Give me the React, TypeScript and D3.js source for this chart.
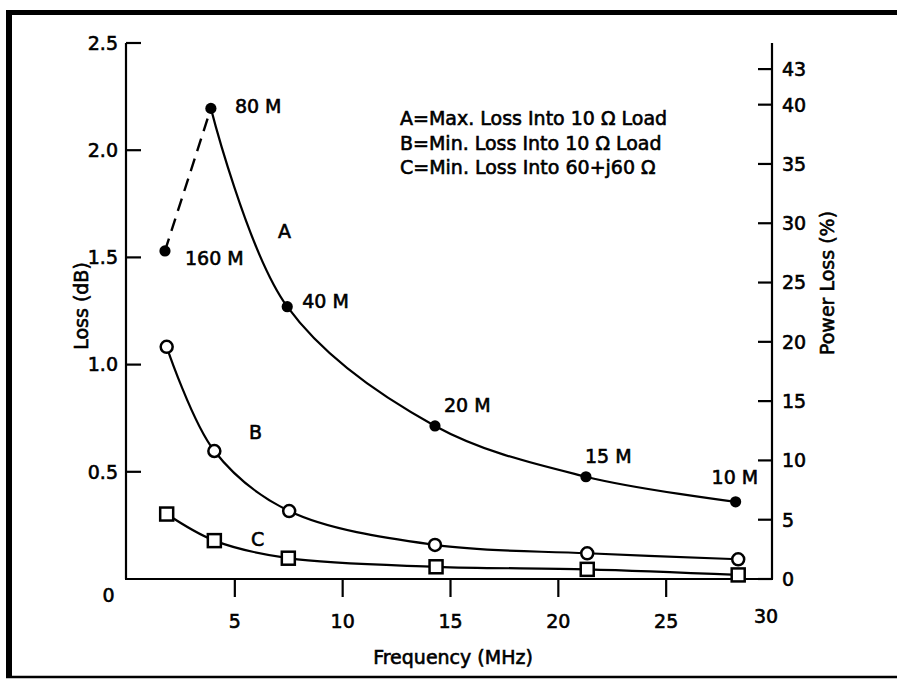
import React from "react";
import * as d3 from "d3";

const bandLabels = ["160 M", "80 M", "40 M", "20 M", "15 M", "10 M"];
const freqA = [1.76, 3.89, 7.43, 14.28, 21.28, 28.22];
const lossA = [1.53, 2.195, 1.27, 0.714, 0.477, 0.36];
const freqB = [1.84, 4.05, 7.52, 14.28, 21.34, 28.34];
const lossB = [1.083, 0.597, 0.317, 0.159, 0.12, 0.092];
const freqC = [1.84, 4.05, 7.48, 14.33, 21.34, 28.34];
const lossC = [0.303, 0.179, 0.097, 0.057, 0.045, 0.019];
const xTicks = [5, 10, 15, 20, 25, 30];
const yLeftTicks = [0.5, 1.0, 1.5, 2.0, 2.5];
const yRightTicks = [0, 5, 10, 15, 20, 25, 30, 35, 40, 43];
const legendLines = [
  "A=Max. Loss Into 10 \u03a9 Load",
  "B=Min. Loss Into 10 \u03a9 Load",
  "C=Min. Loss Into 60+j60 \u03a9",
];

const W = 897;
const H = 679;
const FONT = "'DejaVu Sans', sans-serif";

export default function App() {
  const x = d3.scaleLinear().domain([0, 30]).range([127, 774]);
  const yL = d3.scaleLinear().domain([0, 2.5]).range([579, 43]);
  const yR = d3.scaleLinear().domain([0, 45.2]).range([579, 43]);

  const A = freqA.map((f, i) => [f, lossA[i]] as [number, number]);
  const B = freqB.map((f, i) => [f, lossB[i]] as [number, number]);
  const C = freqC.map((f, i) => [f, lossC[i]] as [number, number]);

  const line = d3
    .line<[number, number]>()
    .x((d) => x(d[0]))
    .y((d) => yL(d[1]))
    .curve(d3.curveCatmullRom.alpha(0.5));
  const straight = d3
    .line<[number, number]>()
    .x((d) => x(d[0]))
    .y((d) => yL(d[1]));

  const labelOffsets = [
    [20, 14],
    [24, 5],
    [15, 1],
    [9, -14],
    [-1, -14],
    [-24, -18],
  ];

  const txt = {
    fontFamily: FONT,
    fontSize: 19,
    fill: "#000",
    stroke: "#000",
    strokeWidth: 0.6,
  } as const;
  const axisStroke = { stroke: "#000", strokeWidth: 2.2 } as const;

  return (
    <svg
      width={W}
      height={H}
      style={{ position: "absolute", left: 0, top: 0, background: "#fff" }}
    >
      {/* frame */}
      <rect x={0} y={0} width={W} height={H} fill="#fff" />
      <line x1={9} y1={10} x2={9} y2={678} stroke="#000" strokeWidth={6} />
      <line x1={6} y1={12.5} x2={W} y2={12.5} stroke="#000" strokeWidth={5} />
      <line x1={6} y1={677} x2={W} y2={677} stroke="#000" strokeWidth={2.5} />

      {/* axes */}
      <line x1={126} y1={yL(2.5)} x2={126} y2={yL(0)} {...axisStroke} />
      <line x1={772} y1={yR(45.2)} x2={772} y2={yR(0)} {...axisStroke} />
      <line x1={125} y1={yL(0)} x2={773} y2={yL(0)} {...axisStroke} />

      {yLeftTicks.map((t) => (
        <g key={"yl" + t}>
          <line x1={126} x2={141} y1={yL(t)} y2={yL(t)} {...axisStroke} />
          <text
            x={118}
            y={yL(t)}
            dy="0.36em"
            textAnchor="end"
            {...txt}
          >
            {t.toFixed(1)}
          </text>
        </g>
      ))}
      <text x={108.5} y={602} textAnchor="middle" {...txt}>
        0
      </text>

      {yRightTicks.map((t) => (
        <g key={"yr" + t}>
          <line x1={758} x2={772} y1={yR(t)} y2={yR(t)} {...axisStroke} />
          <text x={782} y={yR(t)} dy="0.36em" {...txt}>
            {t}
          </text>
        </g>
      ))}

      {xTicks.map((t) => (
        <g key={"x" + t}>
          {t < 30 && (
            <line
              x1={x(t)}
              x2={x(t)}
              y1={yL(0)}
              y2={597}
              {...axisStroke}
            />
          )}
          <text
            x={t < 30 ? x(t) : x(t) - 8}
            y={t < 30 ? 628 : 623}
            textAnchor="middle"
            {...txt}
          >
            {t}
          </text>
        </g>
      ))}

      <text x={453} y={664} textAnchor="middle" {...txt}>
        Frequency (MHz)
      </text>
      <text
        transform="translate(88,306) rotate(-90)"
        textAnchor="middle"
        {...txt}
      >
        Loss (dB)
      </text>
      <text
        transform="translate(834,283) rotate(-90)"
        textAnchor="middle"
        {...txt}
      >
        Power Loss (%)
      </text>

      {/* legend */}
      {legendLines.map((l, i) => (
        <text key={l} x={400} y={125 + i * 24.5} {...txt}>
          {l}
        </text>
      ))}

      {/* curves */}
      <path
        d={straight(A.slice(0, 2)) || ""}
        fill="none"
        stroke="#000"
        strokeWidth={2.4}
        strokeDasharray="13,8"
      />
      <path
        d={line(A.slice(1)) || ""}
        fill="none"
        stroke="#000"
        strokeWidth={2.2}
      />
      <path d={line(B) || ""} fill="none" stroke="#000" strokeWidth={2.2} />
      <path d={line(C) || ""} fill="none" stroke="#000" strokeWidth={2.2} />

      {A.map((d, i) => (
        <circle key={"a" + i} cx={x(d[0])} cy={yL(d[1])} r={5.6} fill="#000" />
      ))}
      {B.map((d, i) => (
        <circle
          key={"b" + i}
          cx={x(d[0])}
          cy={yL(d[1])}
          r={6}
          fill="#fff"
          stroke="#000"
          strokeWidth={2.5}
        />
      ))}
      {C.map((d, i) => (
        <rect
          key={"c" + i}
          x={x(d[0]) - 6.5}
          y={yL(d[1]) - 6.5}
          width={13}
          height={13}
          fill="#fff"
          stroke="#000"
          strokeWidth={2.5}
        />
      ))}

      {/* band labels */}
      {A.map((d, i) => (
        <text
          key={"lab" + i}
          x={x(d[0]) + labelOffsets[i][0]}
          y={yL(d[1]) + labelOffsets[i][1]}
          {...txt}
        >
          {bandLabels[i]}
        </text>
      ))}

      {/* series letters */}
      <text x={278} y={238} {...txt}>A</text>
      <text x={249} y={439} {...txt}>B</text>
      <text x={251} y={546} {...txt}>C</text>
    </svg>
  );
}
